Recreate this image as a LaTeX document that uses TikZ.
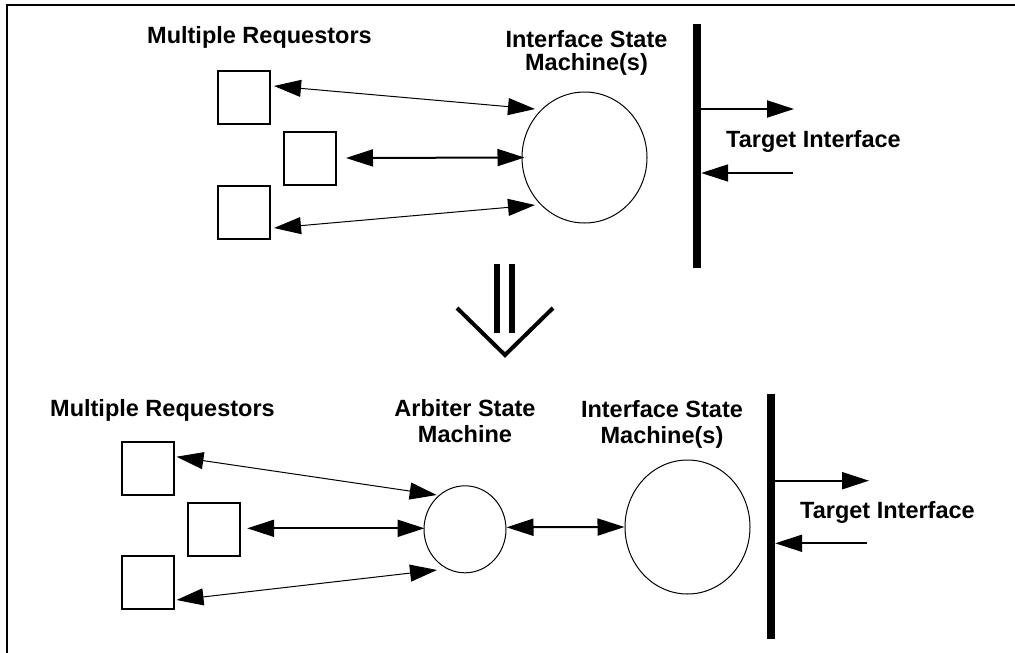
\documentclass[tikz,border=0pt]{standalone}
\usepackage{fontspec}
\setmainfont{Liberation Sans}
\usetikzlibrary{arrows.meta,shapes.geometric}
\begin{document}
\begin{tikzpicture}[x=1pt,y=-1pt,
  req/.style={draw,line width=2pt,minimum width=52pt,minimum height=53pt,inner sep=0pt},
  fsm/.style={draw,ellipse,line width=1pt,inner sep=0pt},
  bus/.style={fill=black,minimum width=8pt,inner sep=0pt},
  lbl/.style={font=\bfseries\fontsize{23.5}{25}\selectfont,inner sep=0pt,align=center},
  >={Triangle[length=27pt,width=17pt]},
  thinlink/.style={<->,line width=1pt},
  thicklink/.style={<->,line width=2pt},
  busarrow/.style={->,line width=2pt}]
\useasboundingbox (0,0) rectangle (1015,653);

% frame
\draw[line width=2pt] (1015,5) -- (7,5) -- (7,653);

% ---------- upper: requestors sharing one interface state machine ----------
% two-line labels are placed by the baseline of their last line
\node[lbl,anchor=base west] (tmr) at (147,43) {Multiple Requestors};
\node[lbl,anchor=base,font=\bfseries\fontsize{23.5}{23}\selectfont] (tisml) at (586.5,70) {Interface State\\Machine(s)};

\node[req] (t1) at (243.5,97) {};
\node[req] (t2) at (309.5,158) {};
\node[req] (t3) at (243.5,212) {};
\node[fsm,minimum width=125pt,minimum height=131pt] (tism) at (584.5,157.5) {};
\node[bus,minimum height=244pt] (tbar) at (697,146) {};

\draw[thinlink] ([shift={(3.5,-11)}]t1.east) -- ([shift={(-49.5,-48.5)}]tism.center);
\draw[thicklink] ([shift={(9.5,0)}]t2.east) -- ([shift={(3,0)}]tism.west);
\draw[thinlink] ([shift={(3.5,16)}]t3.east) -- ([shift={(-49.5,47.5)}]tism.center);

\coordinate (tout) at (794,109);
\coordinate (tin) at (793,173);
\draw[busarrow] ([shift={(0,-37)}]tbar.east) -- (tout);
\draw[busarrow] (tin) -- ([shift={(0,27)}]tbar.east);
\node[lbl,anchor=base west] (ttl) at (726,147) {Target Interface};

% ---------- transformation arrow ----------
\fill (494,264) rectangle (500,333);
\fill (509,264) rectangle (515,333);
\draw[line width=4pt,line cap=butt,line join=miter] (457,308) -- (505,355) -- (553,308);

% ---------- lower: requestors behind an arbiter ----------
\node[lbl,anchor=base west] (bmr) at (50,416) {Multiple Requestors};
\node[lbl,anchor=base,font=\bfseries\fontsize{23.5}{26.5}\selectfont] (arbl) at (465,442.5) {Arbiter State\\Machine};
\node[lbl,anchor=base,font=\bfseries\fontsize{23.5}{26}\selectfont] (bisml) at (662,443.5) {Interface State\\Machine(s)};

\node[req] (b1) at (147.5,468.5) {};
\node[req] (b2) at (213.5,529) {};
\node[req] (b3) at (147.5,582.5) {};
\node[fsm,minimum width=82pt,minimum height=87pt] (arb) at (465,529.3) {};
\node[fsm,minimum width=125pt,minimum height=134pt] (bism) at (687.5,527) {};
\node[bus,minimum height=245pt] (bbar) at (771,516.7) {};

\draw[thinlink] ([shift={(2,-11.8)}]b1.east) -- ([shift={(-28.3,-34.3)}]arb.center);
\draw[thicklink] ([shift={(6.7,-0.7)}]b2.east) -- ([shift={(1,-1)}]arb.west);
\draw[thinlink] ([shift={(2,17.5)}]b3.east) -- ([shift={(-28,40.7)}]arb.center);
\draw[thicklink] ([shift={(0,-2)}]arb.east) -- (bism.west);

\coordinate (bout) at (869,480.7);
\coordinate (bin) at (866.7,543.3);
\draw[busarrow] ([shift={(0,-36)}]bbar.east) -- (bout);
\draw[busarrow] (bin) -- ([shift={(0,26.6)}]bbar.east);
\node[lbl,anchor=base west] (btl) at (800,518.3) {Target Interface};
\end{tikzpicture}
\end{document}
